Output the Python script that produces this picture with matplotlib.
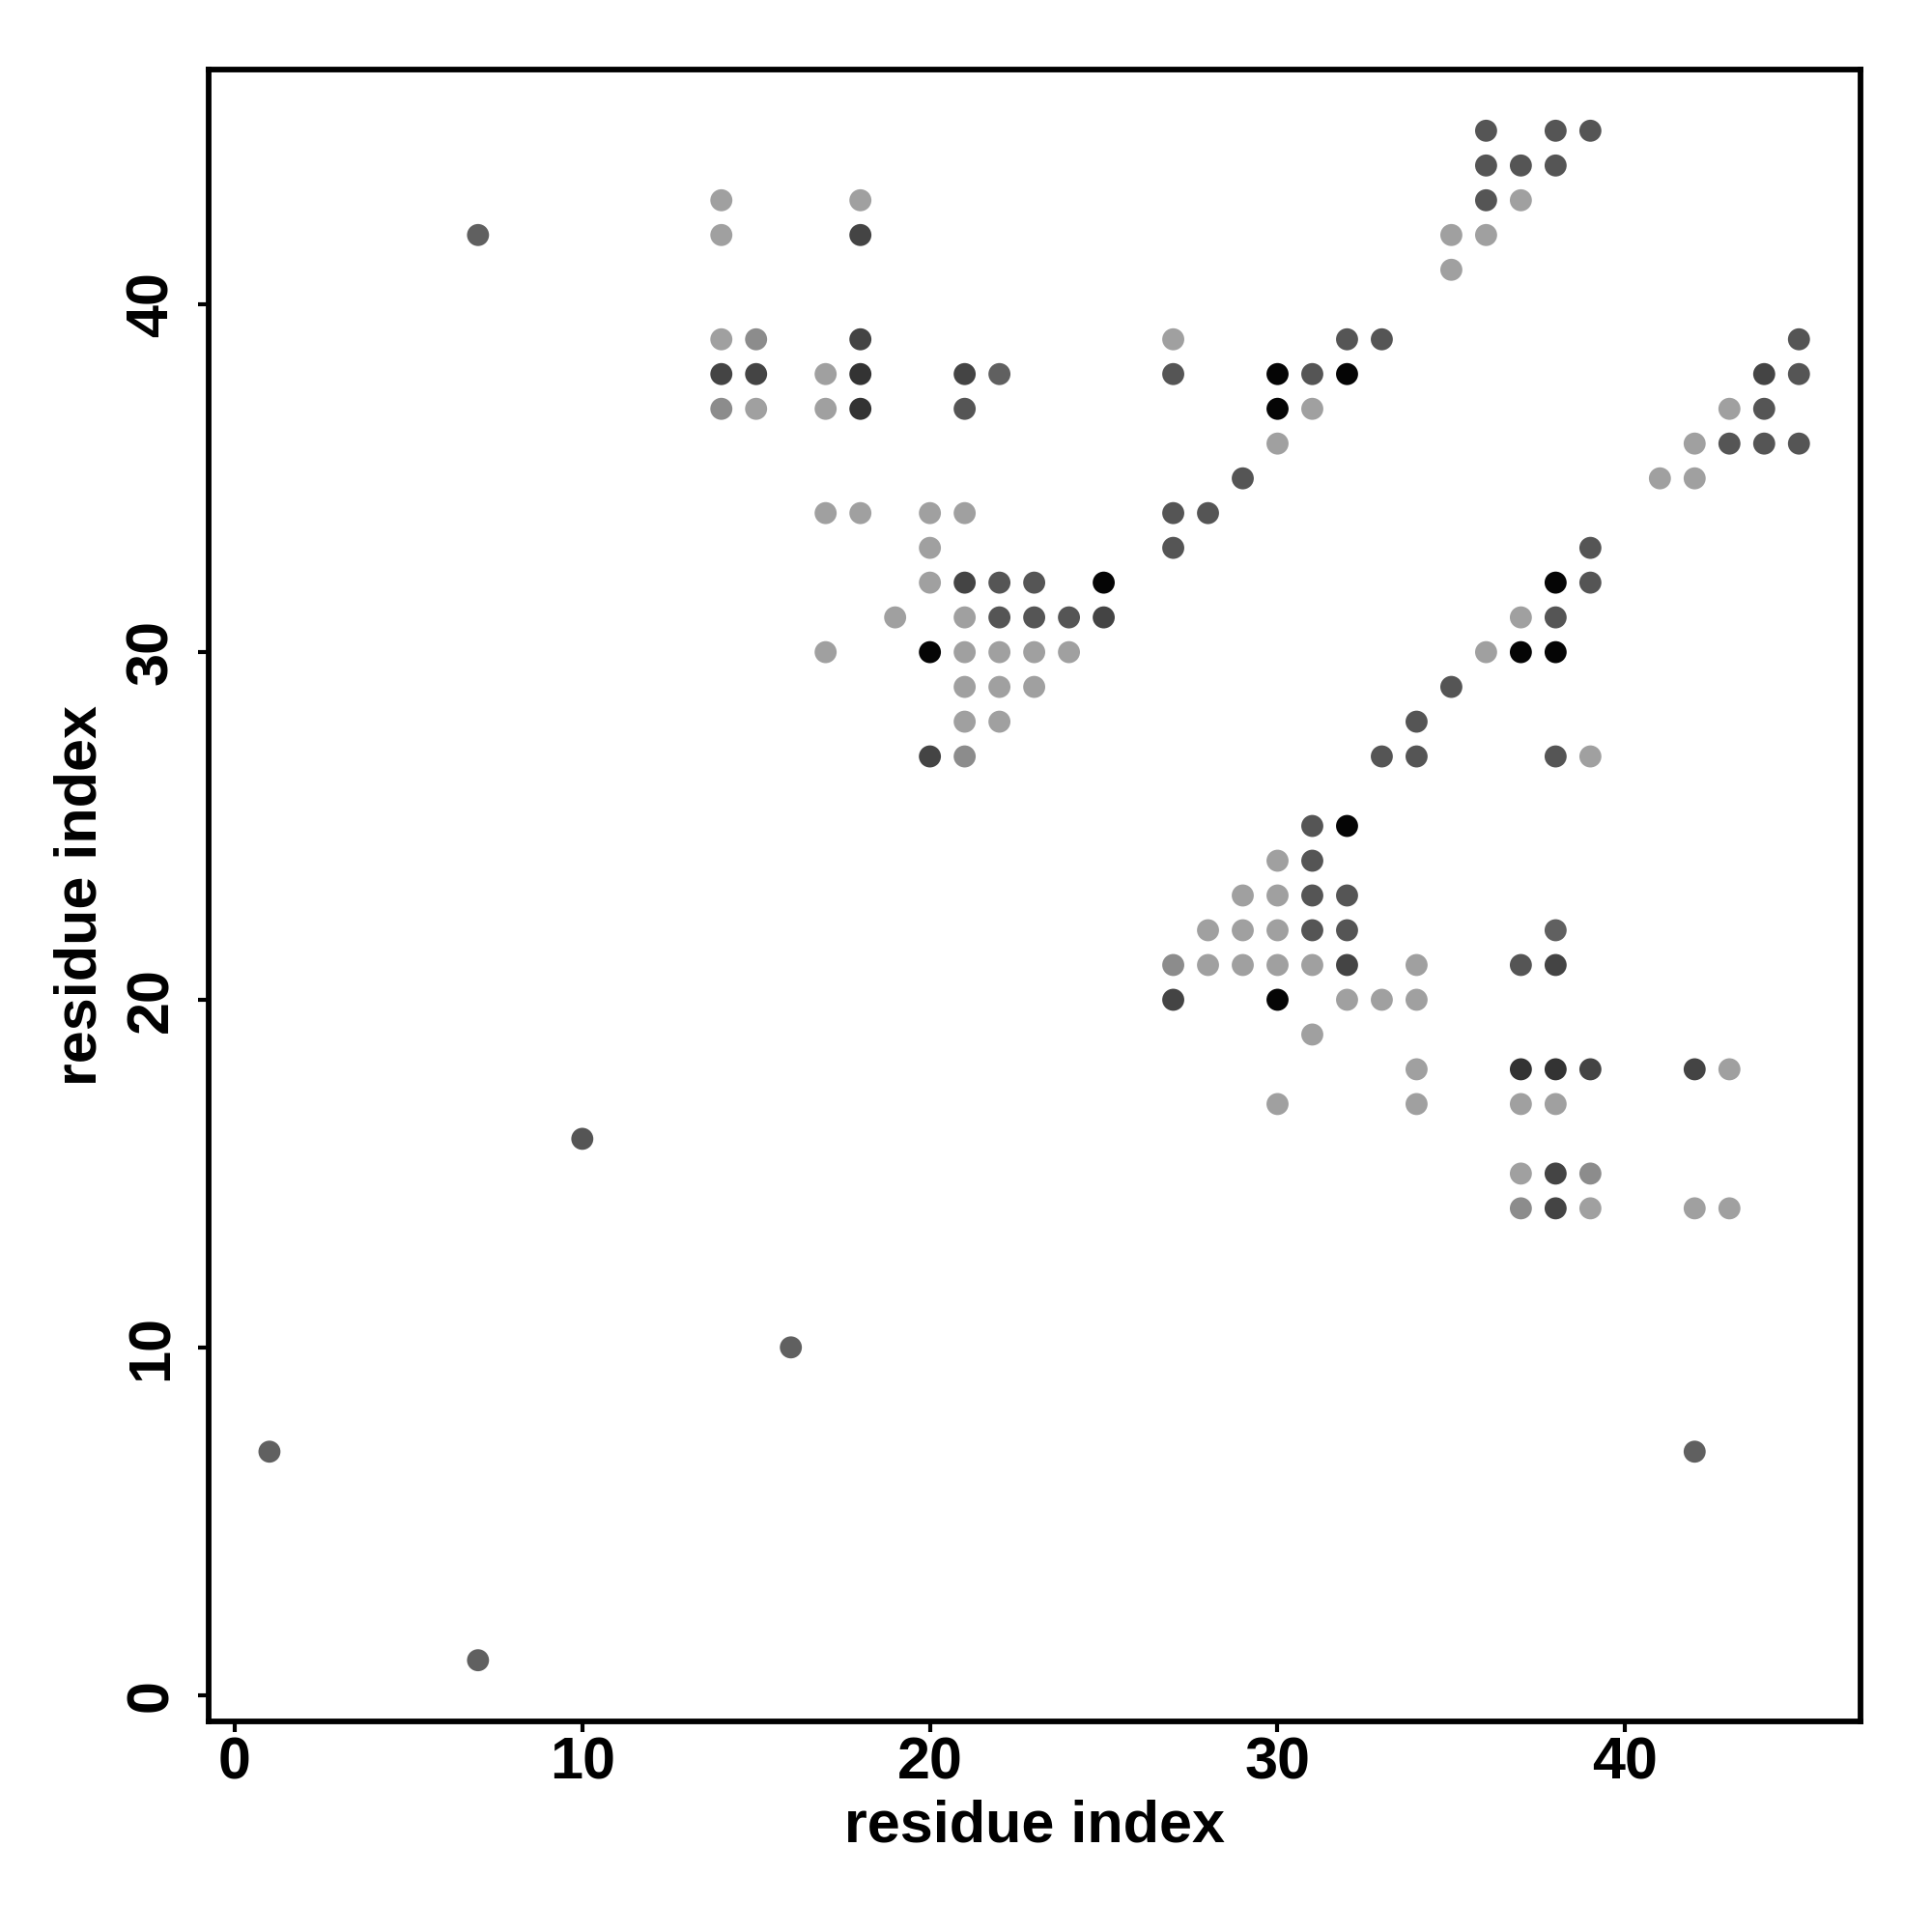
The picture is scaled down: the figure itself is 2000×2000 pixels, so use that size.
#!/usr/bin/env python3
import matplotlib
matplotlib.use("Agg")
import matplotlib.pyplot as plt

# grey shades seen in the map
L = "#a0a0a0"   # weak
M = "#8c8c8c"
G = "#606060"
D = "#555555"
D2 = "#444444"
D3 = "#333333"
K = "#050505"   # strongest

# contacts: (residue i, residue j, shade), grouped by region
isolated = [(7, 42, G), (1, 7, G), (7, 1, G), (10, 16, D), (16, 10, G), (42, 7, G)]

upper_left = [
    (14, 43, L), (14, 42, L), (18, 43, L), (18, 42, D2),
    (14, 39, L), (15, 39, M), (18, 39, D2),
    (14, 38, D2), (15, 38, D2), (17, 38, L), (18, 38, D3),
    (14, 37, M), (15, 37, L), (17, 37, L), (18, 37, D3),
    (21, 38, D2), (22, 38, G), (21, 37, D),
    (17, 34, L), (18, 34, L), (20, 34, L), (21, 34, L),
    (20, 33, L),
    (20, 32, L), (21, 32, D2), (22, 32, D), (23, 32, D), (25, 32, K),
    (19, 31, L), (21, 31, L), (22, 31, D), (23, 31, D), (24, 31, D), (25, 31, D2),
    (17, 30, L), (20, 30, K), (21, 30, L), (22, 30, L), (23, 30, L), (24, 30, L),
    (21, 29, L), (22, 29, L), (23, 29, L),
    (21, 28, L), (22, 28, L),
    (20, 27, D2), (21, 27, M),
]

upper_diag = [
    (36, 45, D), (38, 45, D), (39, 45, D), (36, 44, D), (37, 44, D), (38, 44, D),
    (36, 43, D), (37, 43, L), (35, 42, L), (36, 42, L), (35, 41, L),
    (27, 39, L), (32, 39, D), (33, 39, D),
    (27, 38, D), (30, 38, K), (31, 38, D), (32, 38, K),
    (30, 37, K), (31, 37, L),
    (30, 36, L),
    (29, 35, D),
    (27, 34, D), (28, 34, D),
    (27, 33, D),
]

right = [
    (45, 39, D), (44, 38, D2), (45, 38, D), (43, 37, L), (44, 37, D),
    (42, 36, L), (43, 36, D), (44, 36, D), (45, 36, D), (41, 35, L), (42, 35, L),
]

lower_diag = [
    (39, 33, D), (38, 32, K), (39, 32, D), (37, 31, L), (38, 31, D),
    (36, 30, L), (37, 30, K), (38, 30, K), (35, 29, D), (34, 28, D),
    (33, 27, D), (34, 27, D), (38, 27, D), (39, 27, L),
    (31, 25, D), (32, 25, K), (30, 24, L), (31, 24, D),
    (29, 23, L), (30, 23, L), (31, 23, D), (32, 23, D),
    (28, 22, L), (29, 22, L), (30, 22, L), (31, 22, D), (32, 22, D), (38, 22, G),
    (27, 21, M), (28, 21, L), (29, 21, L), (30, 21, L), (31, 21, L), (32, 21, D2),
    (34, 21, L), (37, 21, D), (38, 21, D2),
    (27, 20, D2), (30, 20, K), (32, 20, L), (33, 20, L), (34, 20, L),
    (31, 19, L),
    (34, 18, L), (37, 18, D3), (38, 18, D3), (39, 18, D2), (42, 18, D2), (43, 18, L),
    (30, 17, L), (34, 17, L), (37, 17, L), (38, 17, L),
    (37, 15, L), (38, 15, D2), (39, 15, M),
    (37, 14, M), (38, 14, D2), (39, 14, L), (42, 14, L), (43, 14, L),
]

xticks = [0, 10, 20, 30, 40]
yticks = [0, 10, 20, 30, 40]

contacts = isolated + upper_left + upper_diag + right + lower_diag
xs = [c[0] for c in contacts]
ys = [c[1] for c in contacts]
cols = [c[2] for c in contacts]

plt.rcParams["font.family"] = ["Liberation Sans", "DejaVu Sans"]
plt.rcParams["font.weight"] = "bold"

fig = plt.figure(figsize=(20, 20), dpi=100)
ax = fig.add_axes([0.1078, 0.109, 0.855, 0.855])
ax.scatter(xs, ys, s=270, c=cols, linewidths=0)

ax.set_xlim(-0.76, 46.76)
ax.set_ylim(-0.76, 46.76)
ax.set_xticks(xticks)
ax.set_yticks(yticks)
ax.tick_params(length=8, width=3, labelsize=44)
ax.tick_params(axis="x", pad=3)
ax.tick_params(axis="y", pad=13)
for lab in ax.get_yticklabels():
    lab.set_rotation(90)
    lab.set_va("center")
for sp in ax.spines.values():
    sp.set_linewidth(4.2)

ax.set_xlabel("residue index", fontsize=44, fontweight="bold", labelpad=6)
ax.set_ylabel("residue index", fontsize=44, fontweight="bold", labelpad=12)

fig.savefig("out.png", dpi=100)
